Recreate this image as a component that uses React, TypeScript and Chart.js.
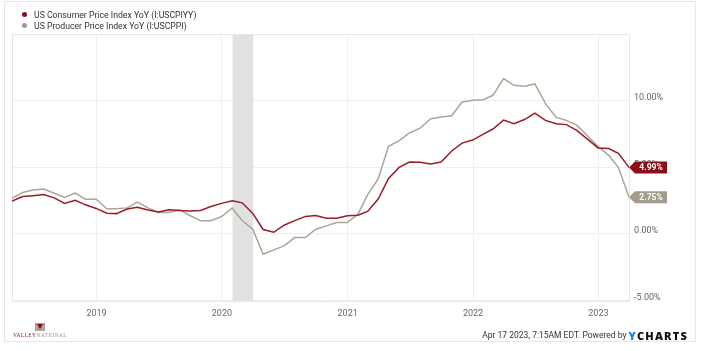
import React, { useEffect, useRef } from "react";
import { Chart, registerables } from "chart.js";

Chart.register(...registerables);

// Monthly data, April 2018 .. March 2023 (points plotted at month end)
const startYear = 2018;
const startMonth = 3; // April (0-based)
const cpiYoY = [
  2.46, 2.8, 2.87, 2.95, 2.7, 2.28, 2.52, 2.18, 1.91,
  1.55, 1.52, 1.86, 2.0, 1.79, 1.65, 1.81, 1.75, 1.71, 1.76, 2.05, 2.29,
  2.49, 2.33, 1.54, 0.33, 0.12, 0.65, 0.99, 1.31, 1.37, 1.18, 1.17, 1.36,
  1.4, 1.68, 2.62, 4.16, 4.99, 5.39, 5.37, 5.25, 5.39, 6.22, 6.81, 7.04,
  7.48, 7.87, 8.54, 8.26, 8.58, 9.06, 8.52, 8.26, 8.2, 7.75, 7.11, 6.45,
  6.41, 6.04, 4.99,
];
const ppiYoY = [
  2.68, 3.1, 3.3, 3.36, 3.05, 2.73, 3.06, 2.6, 2.6,
  1.88, 1.88, 1.95, 2.38, 1.95, 1.6, 1.6, 1.8, 1.38, 0.98, 0.98, 1.3,
  1.93, 1.0, 0.35, -1.53, -1.2, -0.9, -0.28, -0.28, 0.35, 0.6, 0.85, 0.85,
  1.48, 2.93, 4.13, 6.57, 7.0, 7.57, 7.94, 8.64, 8.77, 8.87, 9.9, 10.02,
  10.07, 10.4, 11.65, 11.15, 11.08, 11.25, 9.77, 8.74, 8.52, 8.14, 7.37, 6.57,
  5.89, 5.0, 2.75,
];
const seriesNames = [
  "US Consumer Price Index YoY (I:USCPIYY)",
  "US Producer Price Index YoY (I:USCPPI)",
];
const seriesColors = ["#9a1b2b", "#ada696"];
const labelColors = ["#8c0d18", "#a39c8c"];
const yearTicks = [2019, 2020, 2021, 2022, 2023];
const yTicks = [-5, 0, 5, 10, 15];
const recession = ["2020-02-01", "2020-04-01"];
const footerText = "Apr 17 2023, 7:15AM EDT. Powered by";

const monthEnd = (i: number) => Date.UTC(startYear, startMonth + i + 1, 0);
const toPoints = (arr: number[]) => arr.map((v, i) => ({ x: monthEnd(i), y: v }));

const FONT = "Roboto, 'Liberation Sans', Arial, sans-serif";

const decorPlugin = {
  id: "decor",
  beforeDatasetsDraw(chart: any) {
    const { ctx, chartArea, scales } = chart;
    const x0 = scales.x.getPixelForValue(Date.parse(recession[0]));
    const x1 = scales.x.getPixelForValue(Date.parse(recession[1]));
    ctx.save();
    ctx.fillStyle = "#e1e1e1";
    ctx.fillRect(x0, chartArea.top, x1 - x0, chartArea.bottom - chartArea.top);
    ctx.strokeStyle = "#e6e6e6";
    ctx.lineWidth = 1;
    ctx.strokeRect(
      Math.round(chartArea.left) + 0.5,
      Math.round(chartArea.top) + 0.5,
      Math.round(chartArea.right - chartArea.left),
      Math.round(chartArea.bottom - chartArea.top)
    );
    ctx.restore();
  },
  afterDatasetsDraw(chart: any) {
    const { ctx } = chart;
    chart.data.datasets.forEach((ds: any, di: number) => {
      const meta = chart.getDatasetMeta(di);
      const pt = meta.data[meta.data.length - 1];
      const v = ds.data[ds.data.length - 1].y;
      const x = pt.x;
      const y = pt.y;
      const h = 12;
      const w = 32;
      ctx.save();
      ctx.fillStyle = labelColors[di];
      ctx.beginPath();
      ctx.moveTo(x, y);
      ctx.lineTo(x + 6, y - h / 2);
      ctx.lineTo(x + 6 + w, y - h / 2);
      ctx.lineTo(x + 6 + w, y + h / 2);
      ctx.lineTo(x + 6, y + h / 2);
      ctx.closePath();
      ctx.fill();
      ctx.fillStyle = "#ffffff";
      ctx.font = `bold 8.5px ${FONT}`;
      ctx.textAlign = "center";
      ctx.textBaseline = "middle";
      ctx.fillText(v.toFixed(2) + "%", x + 6 + w / 2, y + 0.5);
      ctx.restore();
    });
  },
};

export default function App() {
  const canvasRef = useRef<HTMLCanvasElement>(null);

  useEffect(() => {
    const canvas = canvasRef.current;
    if (!canvas) return;
    const chart = new Chart(canvas, {
      type: "line",
      data: {
        datasets: [
          {
            label: seriesNames[0],
            data: toPoints(cpiYoY),
            borderColor: seriesColors[0],
            borderWidth: 1.5,
            pointRadius: 0,
            tension: 0,
          },
          {
            label: seriesNames[1],
            data: toPoints(ppiYoY),
            borderColor: seriesColors[1],
            borderWidth: 1.5,
            pointRadius: 0,
            tension: 0,
          },
        ],
      },
      options: {
        animation: false,
        responsive: false,
        maintainAspectRatio: false,
        layout: { padding: { left: 12, top: 34, right: 0, bottom: 0 } },
        plugins: {
          legend: { display: false },
          tooltip: { enabled: false },
        },
        scales: {
          x: {
            type: "linear",
            min: monthEnd(0),
            max: monthEnd(cpiYoY.length - 1),
            afterBuildTicks(axis: any) {
              axis.ticks = yearTicks.map((y) => ({ value: Date.UTC(y, 0, 1) }));
            },
            afterFit(axis: any) {
              axis.height = 50.5;
            },
            grid: { color: "#efefef", drawTicks: false },
            border: { display: false },
            ticks: {
              padding: 8,
              color: "#666666",
              font: { family: FONT, size: 9 },
              maxRotation: 0,
              autoSkip: false,
              callback: (v: any) => String(new Date(Number(v)).getUTCFullYear()),
            },
          },
          y: {
            position: "right",
            min: -5,
            max: 15,
            afterBuildTicks(axis: any) {
              axis.ticks = yTicks.map((v) => ({ value: v }));
            },
            afterFit(axis: any) {
              axis.width = 73;
            },
            grid: { color: "#efefef", drawTicks: false },
            border: { display: false },
            ticks: {
              padding: 5,
              labelOffset: -3,
              color: "#666666",
              font: { family: FONT, size: 9 },
              callback: (v: any) => (Number(v) >= 15 ? "" : Number(v).toFixed(2) + "%"),
            },
          },
        },
      },
      plugins: [decorPlugin],
    });
    return () => chart.destroy();
  }, []);

  return (
    <div
      style={{
        position: "fixed",
        left: 0,
        top: 0,
        width: 702,
        height: 351,
        background: "#ffffff",
        fontFamily: FONT,
        overflow: "hidden",
      }}
    >
      <div
        style={{
          position: "absolute",
          left: 4,
          top: 1,
          width: 692,
          height: 341,
          border: "1px solid #e6e6e6",
          boxSizing: "border-box",
        }}
      />
      <canvas
        ref={canvasRef}
        width={702}
        height={351}
        style={{ position: "absolute", left: 0, top: 0, width: 702, height: 351 }}
      />
      {seriesNames.map((name, i) => (
        <div
          key={name}
          style={{
            position: "absolute",
            left: 22,
            top: 9 + i * 11,
            height: 11,
            display: "flex",
            alignItems: "center",
            fontSize: 8.7,
            color: "#333333",
            whiteSpace: "nowrap",
          }}
        >
          <span
            style={{
              display: "inline-block",
              width: 5,
              height: 5,
              borderRadius: "50%",
              background: labelColors[i],
              marginRight: 7,
            }}
          />
          {name}
        </div>
      ))}
      <div
        style={{
          position: "absolute",
          left: 13,
          top: 323,
          width: 58,
          height: 18,
        }}
      >
        <div
          style={{
            position: "absolute",
            left: 22,
            top: 0,
            width: 10,
            height: 8,
            background: "#a9a39a",
          }}
        >
          <div
            style={{
              position: "absolute",
              left: 2,
              top: 1,
              width: 0,
              height: 0,
              borderLeft: "3px solid transparent",
              borderRight: "3px solid transparent",
              borderTop: "5px solid #8c0d18",
            }}
          />
        </div>
        <div
          style={{
            position: "absolute",
            left: 0,
            top: 8.5,
            fontSize: 5.5,
            fontFamily: "'Liberation Serif', serif",
            color: "#8c0d18",
            whiteSpace: "nowrap",
            letterSpacing: 0.35,
          }}
        >
          VALLEY<span style={{ color: "#9a948a" }}>NATIONAL</span>
        </div>
      </div>
      <div
        style={{
          position: "absolute",
          right: 14,
          top: 328,
          height: 14,
          display: "flex",
          alignItems: "center",
          whiteSpace: "nowrap",
          fontSize: 8.5,
          color: "#333333",
        }}
      >
        <span>{footerText}</span>
        <span
          style={{
            marginLeft: 2,
            fontWeight: 900,
            fontSize: 11,
            letterSpacing: 1.2,
            color: "#111111",
            fontFamily: "'Open Sans', Arial, sans-serif",
          }}
        >
          <span style={{ color: "#1c7ce0" }}>Y</span>CHARTS
        </span>
      </div>
    </div>
  );
}
